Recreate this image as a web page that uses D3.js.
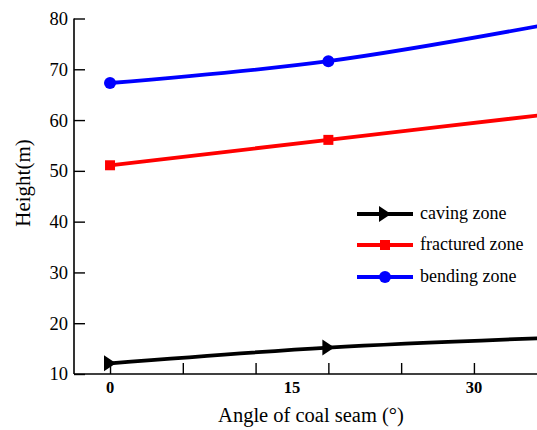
<!DOCTYPE html>
<html>
<head>
<meta charset="utf-8">
<script src="https://cdn.jsdelivr.net/npm/d3@7"></script>
<style>
body{margin:0;background:#fff;}
text{font-family:"Liberation Serif","Times New Roman",serif;fill:#000;}
</style>
</head>
<body>
<svg id="chart" width="537" height="430"></svg>
<script>
// Data
const angles = [0, 18, 36];
const cavingZone = [12.1, 15.2, 17.1];
const fracturedZone = [51.1, 56.1, 61.1];
const bendingZone = [67.3, 71.6, 78.8];
const seriesNames = ["caving zone", "fractured zone", "bending zone"];
const xTickValues = [0, 6, 12, 18, 24, 30];
const xTickLabels = [0, 15, 30];
const yTickValues = [10, 20, 30, 40, 50, 60, 70, 80];

(function(){
const svg = d3.select("#chart");
const mL = 74, mR = 537, mT = 18.5, mB = 374;

const x = d3.scaleLinear().domain([-2.97, 35.2]).range([mL, mR]);
const y = d3.scaleLinear().domain([10, 80]).range([mB, mT]);

svg.append("defs").append("clipPath").attr("id","clip")
  .append("rect").attr("x", mL).attr("y", 0).attr("width", mR-mL).attr("height", mB);

// Y axis
const yAxis = svg.append("g").attr("transform", `translate(${mL},0)`)
  .call(d3.axisRight(y).tickValues(yTickValues).tickSize(11).tickFormat(""));
yAxis.select(".domain").attr("d", `M0,${mT}V${mB}`).attr("stroke","#000").attr("stroke-width",1.6);
yAxis.selectAll(".tick line").attr("stroke","#000").attr("stroke-width",1.4);
svg.append("g").selectAll("text").data(yTickValues).join("text")
  .attr("x", 68).attr("y", d => y(d)).attr("dy","0.35em")
  .attr("text-anchor","end").attr("font-size", 18.5).text(d => d);

// X axis
const xAxis = svg.append("g").attr("transform", `translate(0,${mB})`)
  .call(d3.axisTop(x).tickValues(xTickValues).tickSize(11).tickFormat(""));
xAxis.select(".domain").attr("d", `M${mL},0H${mR}`).attr("stroke","#000").attr("stroke-width",1.6);
xAxis.selectAll(".tick line").attr("stroke","#000").attr("stroke-width",1.4);
svg.append("g").selectAll("text").data(xTickLabels).join("text")
  .attr("x", d => x(d)).attr("y", 393)
  .attr("text-anchor","middle").attr("font-size", 16.5).attr("font-weight","bold").text(d => d);

// Titles
svg.append("text").attr("x", 311).attr("y", 421.5).attr("text-anchor","middle")
  .attr("font-size", 20.5).text("Angle of coal seam (°)");
svg.append("text").attr("transform", `translate(30,183) rotate(-90)`).attr("text-anchor","middle")
  .attr("font-size", 21).text("Height(m)");

// Markers
const tri = "M-6,-8L6,0L-6,8Z";
const series = [
  {name: seriesNames[0], vals: cavingZone, color: "#000", marker: "tri"},
  {name: seriesNames[1], vals: fracturedZone, color: "#ff0000", marker: "sq"},
  {name: seriesNames[2], vals: bendingZone, color: "#0000ff", marker: "circ"}
];
function drawMarker(g, s, cx, cy){
  if (s.marker === "tri") g.append("path").attr("d", tri).attr("transform", `translate(${cx},${cy})`).attr("fill", s.color);
  else if (s.marker === "sq") g.append("rect").attr("x", cx-5).attr("y", cy-5).attr("width",10).attr("height",10).attr("fill", s.color);
  else g.append("circle").attr("cx", cx).attr("cy", cy).attr("r", 6).attr("fill", s.color);
}

const line = d3.line().x(d => x(d[0])).y(d => y(d[1])).curve(d3.curveMonotoneX);
const plot = svg.append("g").attr("clip-path","url(#clip)");
series.forEach(s => {
  const pts = angles.map((a,i) => [a, s.vals[i]]);
  plot.append("path").datum(pts).attr("d", line)
    .attr("fill","none").attr("stroke", s.color).attr("stroke-width", 3.8);
  pts.forEach(p => drawMarker(plot, s, x(p[0]), y(p[1])));
});

// Legend
const legY = [214, 245, 277];
const lg = svg.append("g");
series.forEach((s,i) => {
  lg.append("line").attr("x1", 357).attr("x2", 413).attr("y1", legY[i]).attr("y2", legY[i])
    .attr("stroke", s.color).attr("stroke-width", 3.8);
  drawMarker(lg, s, 385, legY[i]);
  lg.append("text").attr("x", 420).attr("y", legY[i]).attr("dy","0.28em")
    .attr("font-size", 18).text(s.name);
});
})();
</script>
</body>
</html>
